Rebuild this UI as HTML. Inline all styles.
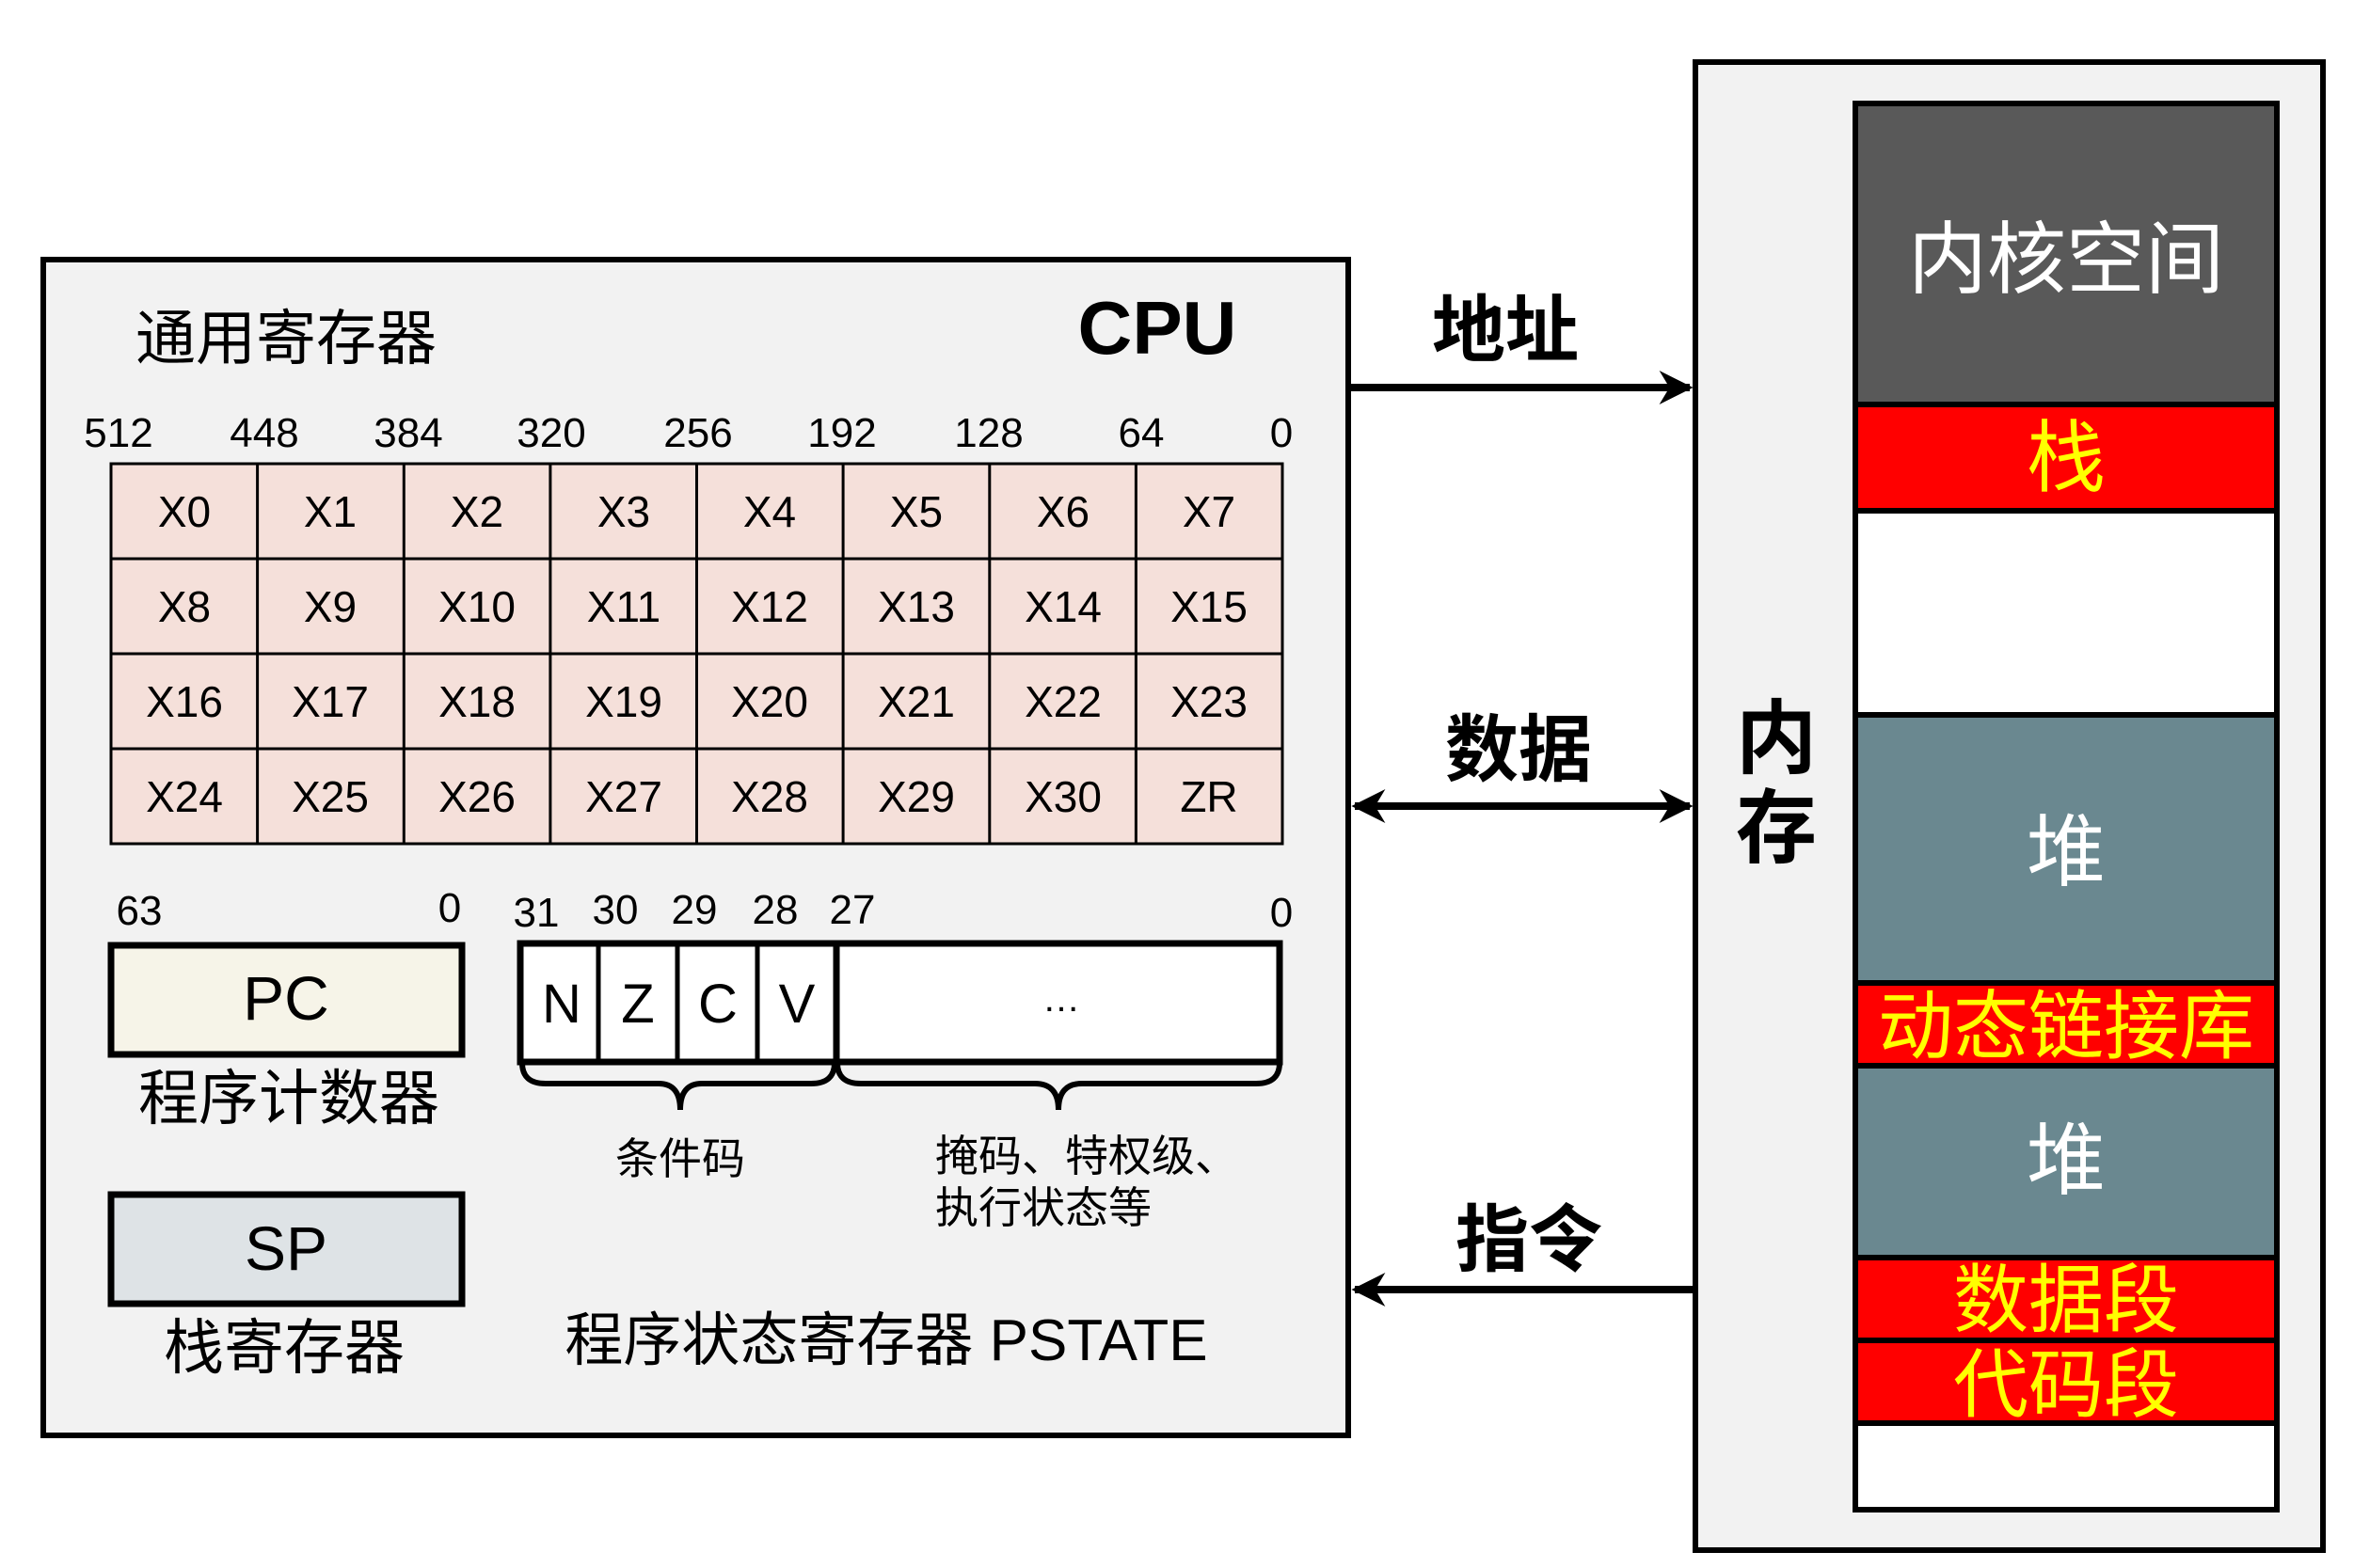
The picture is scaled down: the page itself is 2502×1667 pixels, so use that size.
<!DOCTYPE html>
<html><head><meta charset="utf-8"><style>
html,body{margin:0;padding:0;background:#fff}
svg{display:block}
text{font-family:"Liberation Sans","Noto Sans CJK SC",sans-serif}
</style></head><body>
<svg width="2502" height="1667" viewBox="0 0 2502 1667" xmlns="http://www.w3.org/2000/svg">
<defs>
<marker id="ah" viewBox="0 0 10 10" refX="9" refY="5" markerWidth="6" markerHeight="4.5" orient="auto-start-reverse" markerUnits="strokeWidth">
<path d="M0,0 L10,5 L0,10 L3,5 z" fill="#000"/></marker>
</defs>
<rect x="46" y="276" width="1387" height="1250" fill="#f2f2f2" stroke="#000" stroke-width="6"/>
<text x="144" y="382" font-size="64">通用寄存器</text>
<text x="1230" y="376" font-size="80" font-weight="bold" text-anchor="middle">CPU</text>
<g font-size="44" text-anchor="middle">
<text x="126" y="475">512</text><text x="281" y="475">448</text><text x="434" y="475">384</text><text x="586" y="475">320</text><text x="742" y="475">256</text><text x="895" y="475">192</text><text x="1051" y="475">128</text><text x="1213" y="475">64</text><text x="1362" y="475">0</text>
</g>
<g stroke="#000" stroke-width="3" fill="#f5e0da">
<rect x="118" y="493" width="1245" height="404"/>
</g>
<g stroke="#000" stroke-width="3">
<line x1="273.6" y1="493" x2="273.6" y2="897"/><line x1="429.3" y1="493" x2="429.3" y2="897"/><line x1="584.9" y1="493" x2="584.9" y2="897"/><line x1="740.5" y1="493" x2="740.5" y2="897"/><line x1="896.1" y1="493" x2="896.1" y2="897"/><line x1="1051.8" y1="493" x2="1051.8" y2="897"/><line x1="1207.4" y1="493" x2="1207.4" y2="897"/>
<line x1="118" y1="594" x2="1363" y2="594"/><line x1="118" y1="695" x2="1363" y2="695"/><line x1="118" y1="796" x2="1363" y2="796"/>
</g>
<g font-size="46" text-anchor="middle">
<text x="196" y="560">X0</text><text x="351" y="560">X1</text><text x="507" y="560">X2</text><text x="663" y="560">X3</text><text x="818" y="560">X4</text><text x="974" y="560">X5</text><text x="1130" y="560">X6</text><text x="1285" y="560">X7</text>
<text x="196" y="661">X8</text><text x="351" y="661">X9</text><text x="507" y="661">X10</text><text x="663" y="661">X11</text><text x="818" y="661">X12</text><text x="974" y="661">X13</text><text x="1130" y="661">X14</text><text x="1285" y="661">X15</text>
<text x="196" y="762">X16</text><text x="351" y="762">X17</text><text x="507" y="762">X18</text><text x="663" y="762">X19</text><text x="818" y="762">X20</text><text x="974" y="762">X21</text><text x="1130" y="762">X22</text><text x="1285" y="762">X23</text>
<text x="196" y="863">X24</text><text x="351" y="863">X25</text><text x="507" y="863">X26</text><text x="663" y="863">X27</text><text x="818" y="863">X28</text><text x="974" y="863">X29</text><text x="1130" y="863">X30</text><text x="1285" y="863">ZR</text>
</g>
<g font-size="44" text-anchor="middle">
<text x="148" y="983">63</text><text x="478" y="980">0</text>
<text x="570" y="985">31</text><text x="654" y="982">30</text><text x="738" y="982">29</text><text x="824" y="982">28</text><text x="906" y="982">27</text><text x="1362" y="985">0</text>
</g>
<rect x="118" y="1005" width="373" height="116" fill="#f6f4e8" stroke="#000" stroke-width="7"/>
<text x="304" y="1084" font-size="66" text-anchor="middle">PC</text>
<text x="307" y="1190" font-size="64" text-anchor="middle">程序计数器</text>
<rect x="118" y="1270" width="373" height="116" fill="#dee3e6" stroke="#000" stroke-width="7"/>
<text x="304" y="1350" font-size="66" text-anchor="middle">SP</text>
<text x="302" y="1455" font-size="64" text-anchor="middle">栈寄存器</text>
<rect x="553" y="1003" width="807" height="126" fill="#fff" stroke="#000" stroke-width="7"/>
<g stroke="#000" stroke-width="5"><line x1="636" y1="1003" x2="636" y2="1129"/><line x1="720" y1="1003" x2="720" y2="1129"/><line x1="805" y1="1003" x2="805" y2="1129"/><line x1="889" y1="1003" x2="889" y2="1129" stroke-width="7"/></g>
<g font-size="58" text-anchor="middle">
<text x="597" y="1087">N</text><text x="678" y="1087">Z</text><text x="763" y="1087">C</text><text x="847" y="1087">V</text><text x="1128" y="1075" font-size="40">…</text>
</g>
<g fill="none" stroke="#000" stroke-width="6">
<path d="M555,1130 Q555,1152 580,1152 L700,1152 Q723,1152 723,1180 Q723,1152 746,1152 L862,1152 Q887,1152 887,1130"/>
<path d="M890,1130 Q890,1152 915,1152 L1100,1152 Q1125,1152 1125,1180 Q1125,1152 1150,1152 L1335,1152 Q1360,1152 1360,1130"/>
</g>
<text x="723" y="1248" font-size="46" text-anchor="middle">条件码</text>
<text x="994" y="1245" font-size="46">掩码、特权级、</text>
<text x="994" y="1300" font-size="46">执行状态等</text>
<text x="942" y="1446" font-size="62" text-anchor="middle">程序状态寄存器 PSTATE</text>
<g stroke="#000" stroke-width="8" fill="none">
<line x1="1436" y1="412" x2="1796" y2="412" marker-end="url(#ah)"/>
<line x1="1440" y1="857" x2="1796" y2="857" marker-start="url(#ah)" marker-end="url(#ah)"/>
<line x1="1800" y1="1371" x2="1440" y2="1371" marker-end="url(#ah)"/>
</g>
<g font-size="78" font-weight="bold" text-anchor="middle">
<text x="1600" y="378">地址</text>
<text x="1614" y="824">数据</text>
<text x="1625" y="1345">指令</text>
</g>
<rect x="1802" y="66" width="667" height="1582" fill="#f2f2f2" stroke="#000" stroke-width="6"/>
<g font-size="86" font-weight="bold" text-anchor="middle">
<text x="1888" y="815">内</text><text x="1888" y="910">存</text>
</g>
<g stroke="#000" stroke-width="6">
<rect x="1972" y="110" width="448" height="320" fill="#595959"/>
<rect x="1972" y="430" width="448" height="113" fill="#ff0000"/>
<rect x="1972" y="543" width="448" height="217" fill="#ffffff"/>
<rect x="1972" y="760" width="448" height="285" fill="#6a8890"/>
<rect x="1972" y="1045" width="448" height="88" fill="#ff0000"/>
<rect x="1972" y="1133" width="448" height="204" fill="#6a8890"/>
<rect x="1972" y="1337" width="448" height="88" fill="#ff0000"/>
<rect x="1972" y="1425" width="448" height="88" fill="#ff0000"/>
<rect x="1972" y="1513" width="448" height="92" fill="#ffffff"/>
</g>
<g font-size="84" text-anchor="middle">
<text x="2196" y="305" fill="#fff">内核空间</text>
<text x="2196" y="516" fill="#ffff00">栈</text>
<text x="2196" y="935" fill="#fff">堆</text>
<text x="2196" y="1119" fill="#ffff00" font-size="80">动态链接库</text>
<text x="2196" y="1263" fill="#fff">堆</text>
<text x="2196" y="1410" fill="#ffff00" font-size="80">数据段</text>
<text x="2196" y="1500" fill="#ffff00" font-size="80">代码段</text>
</g>
</svg>
</body></html>
